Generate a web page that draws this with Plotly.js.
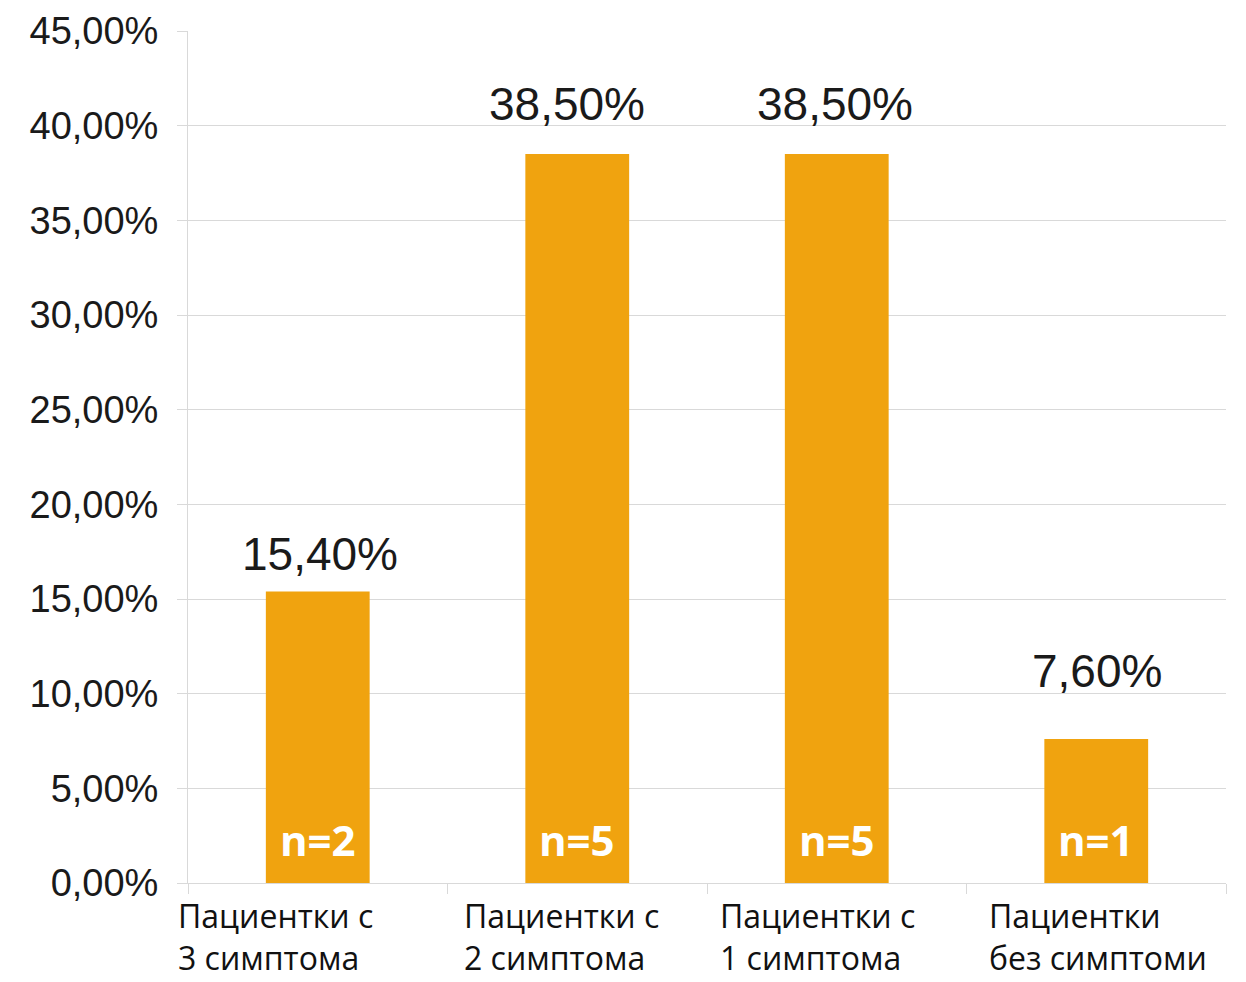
<!DOCTYPE html>
<html>
<head>
<meta charset="utf-8">
<script src="https://cdn.plot.ly/plotly-3.0.1.min.js"></script>
<style>html,body{margin:0;padding:0;background:#fff;}#chart{width:1246px;height:982px;}</style>
</head>
<body>
<div id="chart"></div>
<script>
// Data
const categories = ["Пациентки с 3 симптома", "Пациентки с 2 симптома", "Пациентки с 1 симптома", "Пациентки без симптоми"];
const labelLine1 = ["Пациентки с", "Пациентки с", "Пациентки с", "Пациентки"];
const labelLine2 = ["3 симптома", "2 симптома", "1 симптома", "без симптоми"];
const shares = [0.154, 0.385, 0.385, 0.076];
const counts = [2, 5, 5, 1];

// Style
const barColor = "#F0A30F";
const gridColor = "#D9D9D9";
const valueLabelShift = [37, 50, 50, 68];
const valueLabelXShift = [2, -10, -2, 1];
const catLabelXShift = [-141, -114, -118, -108];

const fmtPct = v => (v * 100).toFixed(2).replace('.', ',') + '%';

const annotations = [];
categories.forEach((c, i) => {
  annotations.push({
    x: c, y: shares[i], xref: 'x', yref: 'y',
    text: fmtPct(shares[i]), showarrow: false,
    yanchor: 'middle', yshift: valueLabelShift[i], xshift: valueLabelXShift[i],
    font: {family: 'Liberation Sans', size: 46, color: '#1a1a1a'}
  });
  annotations.push({
    x: c, y: 0, xref: 'x', yref: 'y',
    text: '<b>n=' + counts[i] + '</b>', showarrow: false,
    yanchor: 'middle', yshift: 44,
    font: {family: 'Open Sans', size: 42, color: '#ffffff'}
  });
  annotations.push({
    x: c, y: 0, xref: 'x', yref: 'y',
    text: labelLine1[i] + '<br>' + labelLine2[i], showarrow: false,
    xanchor: 'left', yanchor: 'top', align: 'left', borderpad: 0,
    yshift: -10, xshift: catLabelXShift[i],
    font: {family: 'Open Sans', size: 32, color: '#111'}
  });
});

const trace = {
  type: 'bar',
  x: categories,
  y: shares,
  marker: {color: barColor},
  hoverinfo: 'skip'
};

const layout = {
  width: 1246, height: 982,
  margin: {l: 188, r: 20, t: 31, b: 99, pad: 0},
  paper_bgcolor: '#fff', plot_bgcolor: '#fff',
  separators: ', ',
  bargap: 0.6,
  showlegend: false,
  xaxis: {
    type: 'category',
    range: [-0.5, categories.length - 0.5],
    autorange: false,
    showticklabels: false,
    tickson: 'boundaries',
    ticks: 'outside', ticklen: 10, tickcolor: gridColor, tickwidth: 1,
    showgrid: false,
    showline: true, linecolor: gridColor, linewidth: 1
  },
  yaxis: {
    range: [0, 0.45],
    dtick: 0.05,
    tickformat: '.2%',
    ticks: 'outside', ticklen: 10, tickcolor: gridColor,
    ticklabelstandoff: 11,
    showgrid: true, gridcolor: gridColor, gridwidth: 1,
    zeroline: true, zerolinecolor: gridColor,
    showline: true, linecolor: gridColor, linewidth: 1,
    tickfont: {family: 'Liberation Sans', size: 38, color: '#1a1a1a'}
  },
  annotations: annotations
};

Plotly.newPlot('chart', [trace], layout, {staticPlot: true, displayModeBar: false});
</script>
</body>
</html>
